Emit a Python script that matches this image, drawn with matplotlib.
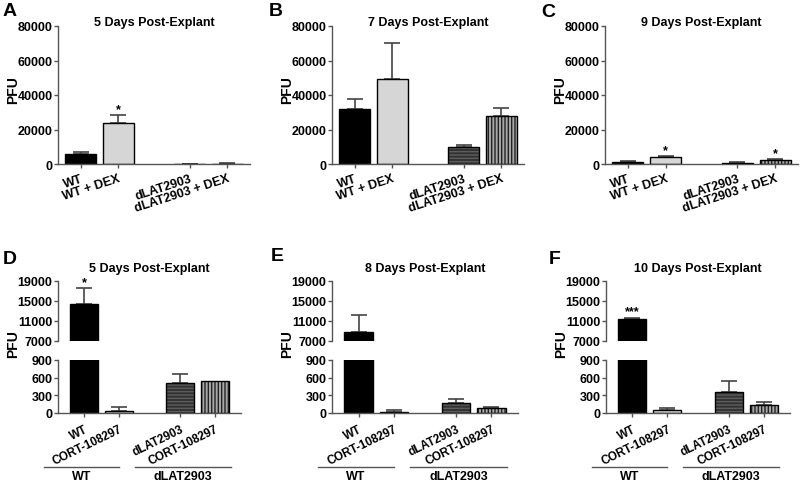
import matplotlib
matplotlib.use("Agg")
import matplotlib.pyplot as plt
import matplotlib.transforms as mtransforms

plt.rcParams['font.family'] = ['Liberation Sans', 'DejaVu Sans']
plt.rcParams['font.weight'] = 'bold'
plt.rcParams['hatch.linewidth'] = 1.0

# ---------------- data ----------------
top_categories = ["WT", "WT + DEX", "dLAT2903", "dLAT2903 + DEX"]
top_titles = ["5 Days Post-Explant", "7 Days Post-Explant", "9 Days Post-Explant"]
top_letters = ["A", "B", "C"]
a_means = [5800, 23600, 150, 250]
a_err = [1400, 4700, 80, 80]
a_stars = ["", "*", "", ""]
b_means = [31600, 49400, 9700, 27700]
b_err = [6200, 20700, 1500, 4600]
b_stars = ["", "", "", ""]
c_means = [1000, 4300, 800, 2300]
c_err = [500, 500, 200, 400]
c_stars = ["", "*", "", "*"]
top_yticks = [0, 20000, 40000, 60000, 80000]

bottom_categories = ["WT", "CORT-108297", "dLAT2903", "CORT-108297"]
group_labels = ["WT", "dLAT2903"]
bottom_titles = ["5 Days Post-Explant", "8 Days Post-Explant", "10 Days Post-Explant"]
bottom_letters = ["D", "E", "F"]
d_means = [14400, 40, 510, 550]
d_err = [3150, 55, 155, 0]
d_stars = ["*", "", "", ""]
e_means = [8900, 20, 165, 80]
e_err = [3370, 35, 65, 20]
e_stars = ["", "", "", ""]
f_means = [11400, 50, 350, 130]
f_err = [300, 30, 185, 60]
f_stars = ["***", "", "", ""]
upper_yticks = [7000, 11000, 15000, 19000]
lower_yticks = [0, 300, 600, 900]

# ---------------- styles ----------------
bar_faces = ["black", "#d6d6d6", "#333333", "#a8a8a8"]
bar_hatches = [None, None, "-----", "|||||"]
hatch_colors = ["black", "black", "#5c5c5c", "#222222"]
spine_col = "#555555"
err_col = "#444444"

W, H = 800, 485
fig = plt.figure(figsize=(8, 4.85), dpi=100)


def rect(x0, x1, ytop, ybot):
    return [x0 / W, 1 - ybot / H, (x1 - x0) / W, (ybot - ytop) / H]


def style_axis(ax, bottom=True):
    for s in ["top", "right"]:
        ax.spines[s].set_visible(False)
    ax.spines["left"].set_color(spine_col)
    ax.spines["left"].set_linewidth(1.0)
    if bottom:
        ax.spines["bottom"].set_color(spine_col)
        ax.spines["bottom"].set_linewidth(1.0)
    else:
        ax.spines["bottom"].set_visible(False)
    ax.tick_params(axis="both", color=spine_col, length=3, width=1,
                   labelsize=9, pad=1)
    for lab in ax.get_yticklabels():
        lab.set_fontweight("bold")


def draw_bars(ax, pos, means, errs, width):
    for i, (p, m, e) in enumerate(zip(pos, means, errs)):
        if bar_hatches[i]:
            ax.bar(p, m, width=width, color=bar_faces[i], hatch=bar_hatches[i],
                   edgecolor=hatch_colors[i], linewidth=0, zorder=2)
            ax.bar(p, m, width=width, fill=False, edgecolor="black",
                   linewidth=1.0, zorder=3)
        else:
            ax.bar(p, m, width=width, color=bar_faces[i], edgecolor="black",
                   linewidth=1.0, zorder=2)
        if e > 0:
            ax.errorbar(p, m, yerr=[[0], [e]], fmt="none", ecolor=err_col,
                        elinewidth=1.2, capsize=6, capthick=1.2, zorder=1)


def draw_stars(ax, pos, means, errs, stars, ylim):
    for p, m, e, s in zip(pos, means, errs, stars):
        if s and ylim[0] <= m + e <= ylim[1]:
            ax.annotate(s, (p, m + e), xytext=(0, 0), textcoords="offset points",
                        ha="center", va="bottom", fontsize=9, fontweight="bold")


# ---------------- top row ----------------
top_pos = [0, 1, 2.9, 3.9]
top_x = [(58, 250), (332, 524), (605, 798)]
top_data = [(a_means, a_err, a_stars), (b_means, b_err, b_stars), (c_means, c_err, c_stars)]
letter_pos_top = [(3, 3), (269, 3), (541, 4)]
for k in range(3):
    x0, x1 = top_x[k]
    ax = fig.add_axes(rect(x0, x1, 27, 165))
    means, errs, stars = top_data[k]
    draw_bars(ax, top_pos, means, errs, 0.83)
    draw_stars(ax, top_pos, means, errs, stars, (0, 80000))
    ax.set_ylim(0, 80000)
    ax.set_xlim(-0.6, 4.5)
    ax.set_yticks(top_yticks)
    ax.set_xticks(top_pos)
    ax.set_xticklabels(top_categories, rotation=18, ha="right",
                       rotation_mode="anchor", fontsize=9, fontweight="bold")
    style_axis(ax)
    ax.tick_params(axis="x", pad=3)
    fig.text((x0 + x1) / 2 / W, 1 - 23 / H, top_titles[k], ha="center",
             va="center", fontsize=9, fontweight="bold")
    fig.text((x0 - 45) / W, 1 - 90 / H, "PFU", rotation=90, ha="center",
             va="center", fontsize=10, fontweight="bold")
    lx, ly = letter_pos_top[k]
    fig.text(lx / W, 1 - ly / H, top_letters[k], ha="left", va="top",
             fontsize=14, fontweight="bold")

# ---------------- bottom row ----------------
bot_pos = [0, 1, 2.75, 3.75]
bot_x = [(58, 241), (332, 518), (606, 790)]
bot_data = [(d_means, d_err, d_stars), (e_means, e_err, e_stars), (f_means, f_err, f_stars)]
letter_pos_bot = [(3, 251), (271, 248), (549, 251)]
group_spans = [(-1.15, 1.0), (1.45, 4.2)]
for k in range(3):
    x0, x1 = bot_x[k]
    means, errs, stars = bot_data[k]
    axu = fig.add_axes(rect(x0, x1, 282, 342))
    axl = fig.add_axes(rect(x0, x1, 361, 414))
    for ax, yl in ((axu, (7000, 19000)), (axl, (0, 900))):
        draw_bars(ax, bot_pos, means, errs, 0.8)
        draw_stars(ax, bot_pos, means, errs, stars, yl)
        ax.set_ylim(*yl)
        ax.set_xlim(-0.75, 4.5)
    axu.set_yticks(upper_yticks)
    axu.set_xticks([])
    style_axis(axu, bottom=False)
    axl.set_yticks(lower_yticks)
    axl.set_xticks(bot_pos)
    axl.set_xticklabels(bottom_categories, rotation=26, ha="right",
                        rotation_mode="anchor", fontsize=8.5, fontweight="bold")
    style_axis(axl)
    axl.tick_params(axis="x", pad=4, labelsize=8.5)
    fig.text((x0 + x1) / 2 / W, 1 - 269 / H, bottom_titles[k], ha="center",
             va="center", fontsize=9, fontweight="bold")
    fig.text((x0 - 45) / W, 1 - 344 / H, "PFU", rotation=90, ha="center",
             va="center", fontsize=10, fontweight="bold")
    lx, ly = letter_pos_bot[k]
    fig.text(lx / W, 1 - ly / H, bottom_letters[k], ha="left", va="top",
             fontsize=14, fontweight="bold")
    trans = mtransforms.blended_transform_factory(axl.transData, fig.transFigure)
    for (g0, g1), gl in zip(group_spans, group_labels):
        axl.plot([g0, g1], [1 - 468 / H] * 2, color=spine_col, lw=1.0,
                 transform=trans, clip_on=False)
        axl.text((g0 + g1) / 2, 1 - 477 / H, gl, transform=trans, ha="center",
                 va="center", fontsize=9, fontweight="bold")

fig.savefig("out.png", dpi=100)
